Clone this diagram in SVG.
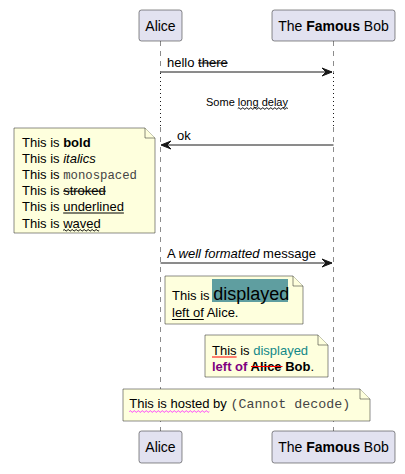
<svg xmlns="http://www.w3.org/2000/svg" width="405" height="474" viewBox="0 0 405 474">
<style>
text{font-family:"Liberation Sans",Arial,sans-serif;fill:#000}
.p{fill:#E2E2F0;stroke:#181818;stroke-width:0.5}
.pt{font-size:14px;text-anchor:middle}
.life{stroke:#181818;stroke-width:0.5;stroke-dasharray:5,5;fill:none}
.dot{stroke:#181818;stroke-width:1;stroke-dasharray:1,3;fill:none}
.msg{stroke:#181818;stroke-width:1;fill:none}
.head{fill:#181818;stroke:#181818;stroke-width:1}
.note{fill:#FEFFDD;stroke:#181818;stroke-width:0.5}
.t13{font-size:13px}
.mono{font-family:"Liberation Mono","Courier New",monospace;fill:#444}
.b{font-weight:bold}
.i{font-style:italic}
.deco{stroke:#000;stroke-width:1;fill:none}
.wave{stroke-width:1;fill:none}
</style>
<g id="connectors">
<line class="life" x1="160.5" y1="41" x2="160.5" y2="73"/>
<line class="dot" x1="160.5" y1="73" x2="160.5" y2="127"/>
<line class="life" x1="160.5" y1="127" x2="160.5" y2="431"/>
<line class="life" x1="333.5" y1="41" x2="333.5" y2="73"/>
<line class="dot" x1="333.5" y1="73" x2="333.5" y2="127"/>
<line class="life" x1="333.5" y1="127" x2="333.5" y2="431"/>
<g id="msg1">
<line class="msg" x1="160.5" y1="72" x2="332" y2="72"/>
<polygon class="head" points="322,68 332,72 322,76 326,72"/>
<text class="t13" x="167" y="67">hello <tspan>there</tspan></text>
<line class="deco" x1="198.1" y1="63" x2="227.7" y2="63"/>
</g>
<g id="delay">
<text x="247" y="105.5" font-size="11" text-anchor="middle">Some long delay</text>
<path class="wave" stroke="#000" d="M237.8,108.5 q1,-1.5 2,0 t2,0 t2,0 t2,0 t2,0 t2,0 t2,0 t2,0 t2,0 t2,0 t2,0 t2,0 t2,0 t2,0 t2,0 t2,0 t2,0 t2,0 t2,0 t2,0 t2,0 t2,0 t2,0 t2,0 t2,0"/>
</g>
<g id="msg2">
<line class="msg" x1="162" y1="145" x2="333.5" y2="145"/>
<polygon class="head" points="171,141 161,145 171,149 167,145"/>
<text class="t13" x="177" y="140">ok</text>
</g>
<g id="msg3">
<line class="msg" x1="160.5" y1="263" x2="332" y2="263"/>
<polygon class="head" points="322,259 332,263 322,267 326,263"/>
<text class="t13" x="167" y="258">A <tspan class="i">well formatted</tspan> message</text>
</g>
</g>
<g id="alice-top">
<rect class="p" x="139" y="10" width="43" height="31" rx="2.5"/>
<text class="pt" x="160.5" y="30.5">Alice</text>
</g>
<g id="bob-top">
<rect class="p" x="272" y="10" width="123" height="31" rx="2.5"/>
<text class="pt" x="333.5" y="30.5">The <tspan class="b">Famous</tspan> Bob</text>
</g>
<g id="alice-bottom">
<rect class="p" x="139" y="431" width="43" height="32" rx="2.5"/>
<text class="pt" x="160.5" y="452">Alice</text>
</g>
<g id="bob-bottom">
<rect class="p" x="272" y="431" width="123" height="32" rx="2.5"/>
<text class="pt" x="333.5" y="452">The <tspan class="b">Famous</tspan> Bob</text>
</g>
<g id="note1">
<path class="note" d="M14,128 L145,128 L155,138 L155,233 L14,233 Z"/>
<path class="note" d="M145,128 L145,138 L155,138"/>
<text class="t13" x="22" y="146.5">This is <tspan class="b">bold</tspan></text>
<text class="t13" x="22" y="162.7">This is <tspan class="i">italics</tspan></text>
<text class="t13" x="22" y="179">This is <tspan class="mono" font-size="12.3">monospaced</tspan></text>
<text class="t13" x="22" y="195.2">This is stroked</text>
<line class="deco" x1="63.2" y1="191.2" x2="105.8" y2="191.2"/>
<text class="t13" x="22" y="211.4">This is underlined</text>
<line class="deco" x1="63.2" y1="213" x2="123.9" y2="213"/>
<text class="t13" x="22" y="227.6">This is waved</text>
<path class="wave" stroke="#000" d="M63.2,230.3 q1,-1.5 2,0 t2,0 t2,0 t2,0 t2,0 t2,0 t2,0 t2,0 t2,0 t2,0 t2,0 t2,0 t2,0 t2,0 t2,0 t2,0 t2,0 t2,0"/>
</g>
<g id="note2">
<path class="note" d="M165,276 L293,276 L303,286 L303,324 L165,324 Z"/>
<path class="note" d="M293,276 L293,286 L303,286"/>
<rect x="212" y="279" width="76" height="23" fill="#5F9EA0"/>
<text class="t13" x="172" y="300">This is <tspan font-size="18">displayed</tspan></text>
<text class="t13" x="172" y="317">left of Alice.</text>
<line class="deco" x1="172" y1="319.5" x2="203.8" y2="319.5"/>
</g>
<g id="note3">
<path class="note" d="M205,335 L318,335 L328,345 L328,377 L205,377 Z"/>
<path class="note" d="M318,335 L318,345 L328,345"/>
<text class="t13" x="212" y="354.5">This is <tspan fill="#118888">displayed</tspan></text>
<line x1="212" y1="357" x2="236.6" y2="357" stroke="#FF0000" stroke-width="1"/>
<text class="t13 b" x="212" y="371"><tspan fill="#800080">left of</tspan> Alice Bob<tspan font-weight="normal">.</tspan></text>
<line x1="251" y1="366.5" x2="282.5" y2="366.5" stroke="#FF0000" stroke-width="1"/>
</g>
<g id="note4">
<path class="note" d="M123,389 L360,389 L370,399 L370,421 L123,421 Z"/>
<path class="note" d="M360,389 L360,399 L370,399"/>
<text class="t13" x="129.3" y="408">This is hosted by <tspan class="mono" font-size="13.3">(Cannot decode)</tspan></text>
<path class="wave" stroke="#FF33FF" d="M129.3,411.5 q1,-1.5 2,0 t2,0 t2,0 t2,0 t2,0 t2,0 t2,0 t2,0 t2,0 t2,0 t2,0 t2,0 t2,0 t2,0 t2,0 t2,0 t2,0 t2,0 t2,0 t2,0 t2,0 t2,0 t2,0 t2,0 t2,0 t2,0 t2,0 t2,0 t2,0 t2,0 t2,0 t2,0 t2,0 t2,0 t2,0 t2,0 t2,0 t2,0 t2,0 t2,0"/>
</g>
</svg>
